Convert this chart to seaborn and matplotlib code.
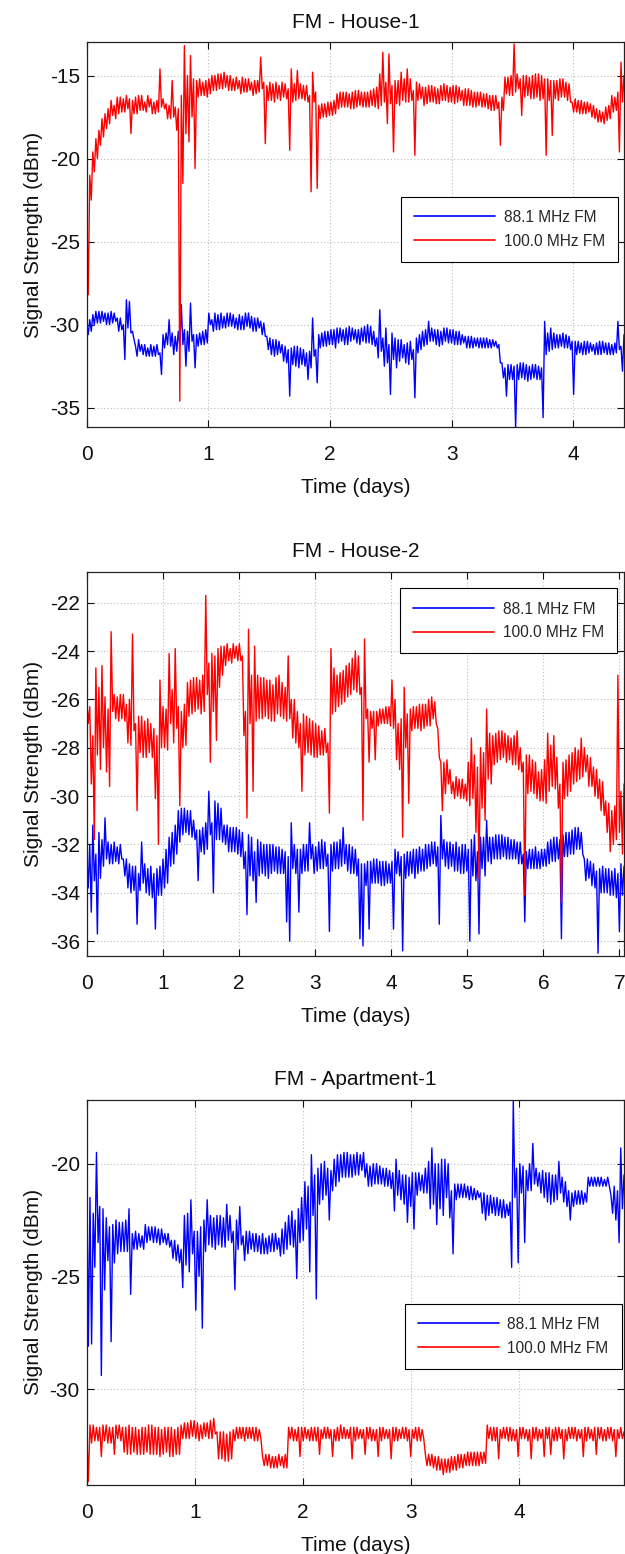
import numpy as np
import pandas as pd
import matplotlib
matplotlib.use("Agg")
import matplotlib.pyplot as plt
import seaborn as sns

# ---------------------------------------------------------------------------
# Received signal strength (dBm) of two FM stations, sampled at a regular
# interval over each measurement campaign.  Each interval is stored as the two
# extremes seen in it (first / second list), which traces the dense noise band.
# ---------------------------------------------------------------------------
labels = ["88.1 MHz FM", "100.0 MHz FM"]
titles = ["FM - House-1", "FM - House-2", "FM - Apartment-1"]
durations = [4.415, 7.06, 4.968]          # days covered by each campaign

house1_881_a = [
    -30.6, -29.7, -29.4, -29.9, -29.2, -29.8, -29.3, -30.0, -29.2, -29.8,
    -29.6, -30.3, -32.1, -28.5, -28.6, -30.9, -31.3, -31.6, -31.2, -31.9,
    -31.4, -31.9, -31.3, -31.8, -33.0, -30.6, -31.2, -29.7, -31.8, -30.7,
    -31.3, -28.8, -32.5, -30.4, -28.7, -32.6, -30.6, -31.2, -30.4, -31.1,
    -30.0, -29.7, -30.3, -29.4, -30.2, -29.5, -30.1, -29.3, -30.2, -29.6,
    -30.3, -29.5, -30.1, -29.3, -30.4, -29.6, -30.2, -29.8, -30.7, -31.5,
    -30.8, -31.9, -30.9, -31.7, -31.2, -32.3, -34.3, -31.4, -32.5, -31.3,
    -32.4, -31.5, -33.3, -31.6, -29.6, -33.5, -30.6, -31.3, -30.4, -31.2,
    -30.3, -31.4, -30.2, -31.0, -30.3, -31.2, -30.1, -30.9, -30.3, -31.2,
    -30.2, -31.1, -30.0, -31.2, -30.4, -32.0, -29.1, -32.5, -30.2, -34.2,
    -30.5, -32.6, -30.9, -32.0, -31.2, -32.4, -31.0, -34.4, -30.8, -31.5,
    -30.4, -31.2, -29.8, -31.0, -30.3, -31.3, -30.4, -31.0, -30.2, -31.1,
    -30.3, -31.2, -30.4, -31.1, -30.7, -31.4, -30.7, -31.3, -30.8, -31.4,
    -30.8, -31.4, -30.9, -31.3, -31.0, -32.3, -33.2, -34.3, -32.4, -33.3,
    -36.2, -32.4, -33.2, -32.3, -33.4, -32.5, -33.2, -32.4, -33.3, -35.6,
    -29.8, -31.6, -30.2, -31.4, -30.6, -31.3, -30.5, -31.4, -30.7, -34.2,
    -31.0, -31.7, -31.1, -31.8, -31.0, -31.6, -31.2, -31.8, -31.0, -31.7,
    -31.1, -31.8, -31.2, -31.7, -29.8, -32.8, -30.6,
]
house1_881_b = [
    -29.9, -30.4, -30.0, -29.2, -29.9, -29.2, -30.0, -29.3, -29.9, -29.3,
    -30.4, -29.6, -30.0, -30.2, -30.5, -30.4, -31.9, -30.9, -31.8, -31.2,
    -31.9, -31.2, -31.9, -31.2, -31.7, -31.4, -30.5, -31.3, -30.5, -31.6,
    -30.4, -31.2, -30.3, -31.6, -31.0, -30.6, -31.3, -30.5, -31.2, -30.3,
    -29.3, -30.4, -29.3, -30.3, -29.3, -30.2, -29.3, -30.1, -29.4, -30.3,
    -29.4, -30.3, -29.3, -30.2, -29.5, -30.4, -29.6, -30.6, -29.9, -30.7,
    -31.8, -30.9, -31.8, -31.0, -32.2, -31.3, -31.5, -32.4, -31.3, -32.6,
    -31.4, -32.5, -31.7, -32.6, -31.9, -31.5, -31.4, -30.5, -31.3, -30.4,
    -31.2, -30.3, -31.1, -30.2, -31.2, -30.2, -31.0, -30.2, -31.1, -30.3,
    -31.0, -30.1, -31.1, -30.1, -31.3, -30.8, -31.6, -30.8, -32.3, -31.2,
    -32.1, -30.8, -32.2, -30.9, -32.3, -31.1, -32.1, -31.5, -31.7, -30.6,
    -31.3, -30.3, -31.0, -30.2, -31.2, -30.3, -31.2, -30.2, -31.1, -30.3,
    -31.2, -30.4, -31.2, -30.6, -31.4, -30.7, -31.4, -30.8, -31.4, -30.8,
    -31.4, -30.8, -31.4, -30.9, -31.4, -31.2, -32.3, -32.6, -33.3, -32.4,
    -32.5, -33.3, -32.3, -33.3, -32.4, -33.3, -32.4, -33.3, -32.5, -32.6,
    -31.8, -30.5, -31.5, -30.5, -31.4, -30.6, -31.4, -30.6, -31.5, -31.0,
    -31.8, -31.0, -31.8, -31.0, -31.7, -31.1, -31.8, -31.1, -31.8, -31.0,
    -31.8, -31.1, -31.8, -31.1, -31.5, -31.3, -31.8,
]
house1_1000_a = [
    -28.2, -22.5, -20.8, -20.0, -19.2, -18.7, -18.2, -17.9, -17.4, -17.6,
    -16.3, -17.2, -16.4, -17.0, -18.5, -16.5, -17.3, -16.2, -17.1, -16.6,
    -16.9, -17.3, -16.6, -17.2, -14.6, -17.0, -16.7, -17.6, -15.3, -18.3,
    -34.6, -21.5, -13.2, -19.0, -13.8, -20.6, -15.3, -16.2, -15.4, -16.3,
    -15.2, -15.9, -15.0, -15.8, -14.9, -15.7, -15.0, -15.9, -15.2, -15.8,
    -15.3, -16.0, -15.2, -15.9, -15.4, -16.1, -15.3, -13.9, -19.1, -15.6,
    -16.5, -15.5, -16.4, -15.6, -16.3, -15.5, -19.5, -14.6, -16.5, -14.7,
    -16.4, -15.6, -16.6, -22.0, -14.8, -21.8, -16.8, -17.5, -16.7, -17.4,
    -16.6, -17.3, -16.1, -16.9, -16.0, -16.9, -16.1, -17.0, -15.9, -16.8,
    -16.0, -16.9, -16.0, -16.8, -15.8, -17.0, -14.9, -13.6, -17.9, -13.7,
    -19.6, -15.3, -16.8, -14.8, -16.6, -14.6, -16.5, -19.8, -15.4, -16.4,
    -16.8, -15.7, -16.6, -15.6, -16.7, -15.8, -16.5, -15.5, -16.6, -15.7,
    -16.7, -15.6, -16.5, -15.9, -16.8, -15.8, -16.9, -16.0, -16.8, -16.0,
    -16.9, -16.1, -17.1, -16.2, -17.0, -19.2, -16.3, -15.1, -16.2, -15.0,
    -13.1, -15.8, -17.4, -15.0, -16.2, -15.1, -16.4, -14.9, -16.5, -15.0,
    -19.8, -15.2, -18.6, -15.3, -16.5, -15.2, -16.3, -15.4, -16.6, -16.6,
    -17.2, -16.5, -17.3, -16.6, -17.2, -16.7, -17.6, -17.0, -17.8, -17.2,
    -17.7, -16.8, -17.2, -16.3, -19.6, -14.2, -15.6,
]
house1_1000_b = [
    -23.0, -21.0, -19.6, -18.8, -18.3, -17.6, -17.3, -17.0, -16.5, -16.8,
    -17.3, -16.3, -17.2, -16.2, -16.4, -17.3, -16.3, -17.1, -16.2, -17.2,
    -16.2, -16.4, -17.3, -16.5, -16.9, -16.4, -17.6, -16.8, -17.5, -16.9,
    -17.0, -16.2, -18.5, -15.0, -17.5, -15.2, -16.3, -15.2, -16.2, -15.3,
    -16.1, -15.0, -15.9, -14.9, -15.8, -14.8, -15.9, -15.0, -15.9, -15.1,
    -16.1, -15.1, -16.0, -15.2, -16.2, -15.3, -16.0, -15.8, -15.4, -16.5,
    -15.4, -16.6, -15.4, -16.5, -15.4, -16.4, -15.8, -16.6, -15.5, -16.4,
    -15.5, -16.5, -15.6, -16.2, -16.6, -16.0, -17.6, -16.7, -17.5, -16.6,
    -17.4, -16.5, -17.0, -16.0, -16.9, -16.0, -17.0, -16.0, -16.9, -15.9,
    -16.9, -16.0, -16.9, -15.9, -16.9, -15.7, -16.8, -16.6, -15.4, -16.7,
    -15.6, -16.7, -15.3, -16.5, -15.2, -16.6, -15.2, -15.9, -16.5, -15.5,
    -15.7, -16.7, -15.6, -16.6, -15.7, -16.7, -15.6, -16.5, -15.6, -16.6,
    -15.6, -16.6, -15.7, -16.8, -15.8, -16.8, -15.9, -16.9, -16.0, -16.9,
    -16.1, -17.0, -16.2, -17.1, -16.2, -16.6, -17.1, -16.1, -15.1, -16.2,
    -16.0, -14.9, -15.2, -16.3, -15.0, -16.4, -15.0, -16.3, -14.9, -16.4,
    -15.2, -16.5, -15.3, -16.4, -15.3, -16.3, -15.2, -16.5, -15.5, -17.2,
    -16.4, -17.3, -16.5, -17.3, -16.6, -17.5, -16.8, -17.8, -17.1, -17.9,
    -16.9, -17.6, -16.2, -17.1, -16.0, -16.6, -15.0,
]

house2_881_a = [
    -32.4, -34.8, -31.2, -35.7, -31.5, -32.9, -30.9, -32.8, -32.0, -32.7,
    -32.1, -32.6, -33.3, -32.6, -34.0, -32.9, -35.3, -33.2, -31.9, -34.0,
    -33.0, -34.2, -35.5, -33.0, -34.1, -32.6, -33.6, -31.7, -32.8, -31.2,
    -31.9, -30.5, -31.5, -30.6, -31.7, -31.0, -33.5, -31.4, -32.4, -31.1,
    -29.8, -34.0, -30.2, -31.8, -30.5, -32.0, -31.2, -32.3, -31.3, -32.4,
    -31.4, -33.0, -34.9, -31.6, -33.5, -34.4, -31.8, -33.2, -32.0, -33.4,
    -32.0, -33.1, -32.1, -33.2, -32.2, -35.2, -36.0, -31.1, -33.2, -34.8,
    -32.2, -33.1, -32.0, -31.1, -33.2, -32.1, -33.0, -31.8, -32.9, -35.6,
    -32.0, -33.0, -31.9, -32.9, -31.3, -33.1, -32.0, -33.2, -32.2, -35.9,
    -36.2, -32.8, -35.5, -32.7, -33.6, -32.6, -33.7, -32.7, -33.6, -32.8,
    -35.5, -33.2, -32.3, -36.4, -32.4, -33.3, -32.3, -33.4, -32.2, -33.1,
    -32.2, -33.0, -32.0, -32.8, -31.9, -35.3, -30.8, -32.9, -31.9, -32.9,
    -32.0, -33.1, -32.1, -33.2, -32.0, -36.0, -31.8, -33.5, -35.7, -31.7,
    -33.3, -31.0, -32.8, -31.7, -32.6, -31.6, -32.5, -31.7, -32.6, -31.8,
    -32.6, -31.9, -32.8, -35.2, -32.3, -33.0, -32.2, -33.0, -32.3, -32.9,
    -32.2, -32.8, -31.8, -32.7, -31.7, -35.9, -31.6, -32.5, -31.5, -32.4,
    -31.3, -32.2, -31.5, -32.6, -33.4, -32.7, -33.8, -36.5, -33.0, -34.0,
    -33.0, -34.1, -33.1, -34.2, -35.6, -32.8, -34.0,
]
house2_881_b = [
    -33.8, -32.0, -33.5, -32.4, -33.4, -31.8, -32.6, -31.9, -32.8, -31.9,
    -32.8, -32.0, -32.6, -33.8, -32.8, -33.9, -32.9, -33.9, -33.6, -32.8,
    -34.1, -32.9, -33.2, -34.1, -32.9, -33.8, -32.2, -32.9, -31.5, -32.4,
    -30.6, -31.6, -30.5, -31.6, -30.6, -31.8, -31.4, -32.3, -31.3, -32.2,
    -31.6, -31.1, -31.8, -30.3, -31.9, -31.2, -32.3, -31.3, -32.3, -31.3,
    -32.5, -31.5, -32.3, -33.3, -31.7, -32.3, -33.3, -31.9, -33.3, -32.0,
    -33.2, -32.0, -33.2, -32.1, -33.2, -32.3, -32.5, -33.0, -32.0, -32.2,
    -33.2, -32.0, -33.1, -32.6, -32.0, -33.1, -31.9, -33.0, -31.9, -32.4,
    -33.1, -31.9, -33.0, -31.8, -32.8, -32.0, -33.2, -32.1, -33.3, -32.6,
    -32.8, -33.7, -32.7, -33.6, -32.6, -33.6, -32.7, -33.7, -32.7, -33.6,
    -32.7, -32.2, -33.3, -32.5, -33.4, -32.3, -33.2, -32.2, -33.2, -32.1,
    -33.1, -32.0, -32.9, -31.9, -32.9, -32.1, -32.6, -31.8, -33.0, -31.9,
    -33.1, -31.9, -33.2, -32.0, -33.1, -32.2, -33.3, -31.6, -32.3, -33.0,
    -31.7, -32.7, -31.7, -32.6, -31.6, -32.6, -31.6, -32.6, -31.7, -32.6,
    -31.8, -32.8, -31.9, -32.4, -33.0, -32.2, -33.0, -32.1, -33.0, -32.2,
    -32.9, -31.9, -32.7, -31.7, -32.6, -31.8, -32.5, -31.5, -32.4, -31.4,
    -32.2, -31.3, -32.4, -33.5, -32.6, -33.7, -32.8, -33.1, -34.0, -32.9,
    -34.0, -33.0, -34.1, -33.0, -33.2, -34.1, -32.9,
]
house2_1000_a = [
    -27.0, -29.5, -31.8, -24.7, -28.9, -24.6, -29.0, -29.6, -23.2, -26.8,
    -25.9, -26.8, -25.8, -27.8, -26.0, -23.3, -30.6, -26.7, -28.4, -26.9,
    -28.2, -27.0, -30.1, -32.0, -25.2, -28.0, -26.4, -24.1, -27.8, -23.9,
    -30.4, -26.5, -27.9, -25.3, -26.6, -25.1, -26.4, -25.2, -26.5, -21.7,
    -28.6, -24.1, -27.7, -23.9, -25.0, -23.8, -24.4, -23.9, -24.3, -23.8,
    -24.4, -27.5, -30.9, -23.1, -29.8, -23.8, -26.8, -25.1, -26.7, -25.2,
    -26.9, -25.4, -26.6, -25.0, -26.8, -25.5, -24.2, -27.6, -26.0, -28.0,
    -29.8, -26.6, -28.2, -26.8, -28.4, -27.0, -28.3, -27.3, -28.2, -30.7,
    -23.9, -26.5, -25.0, -26.2, -24.8, -25.9, -24.5, -25.6, -24.0, -25.8,
    -31.0, -23.5, -28.6, -26.5, -28.5, -26.5, -27.0, -26.4, -27.0, -26.3,
    -25.2, -28.5, -27.0, -31.7, -25.5, -30.3, -26.4, -27.2, -26.3, -27.3,
    -26.2, -27.1, -26.0, -25.9, -27.0, -28.4, -30.6, -28.6, -29.5, -28.9,
    -29.4, -30.0, -29.3, -30.1, -29.5, -30.4, -27.6, -31.5, -33.4, -28.0,
    -31.0, -26.4, -29.5, -27.5, -28.6, -27.3, -28.4, -27.4, -28.5, -27.6,
    -28.7, -27.3, -29.0, -34.1, -28.3, -29.8, -28.5, -30.1, -29.0, -30.2,
    -30.3, -27.4, -29.6, -27.5, -30.5, -34.4, -28.6, -30.0, -28.3, -29.5,
    -28.0, -29.3, -27.6, -29.0, -28.3, -29.6, -28.8, -30.1, -29.3, -30.8,
    -30.2, -32.3, -30.6, -31.8, -25.0, -32.4, -29.5,
]
house2_1000_b = [
    -26.0, -26.3, -27.5, -28.3, -25.5, -28.0, -25.9, -26.4, -26.5, -25.8,
    -26.9, -25.8, -26.9, -26.2, -27.9, -27.3, -27.0, -28.2, -26.7, -28.4,
    -26.8, -28.4, -27.2, -27.5, -28.0, -26.3, -28.1, -27.0, -25.6, -27.2,
    -26.3, -28.0, -26.2, -26.7, -25.2, -26.5, -25.1, -26.6, -25.0, -25.8,
    -24.5, -26.5, -24.2, -25.5, -23.8, -24.6, -23.7, -24.5, -23.7, -24.4,
    -23.7, -24.2, -26.5, -27.0, -25.0, -26.9, -25.0, -26.8, -25.1, -26.8,
    -25.2, -26.9, -25.1, -26.7, -25.3, -26.9, -26.8, -26.0, -27.8, -26.5,
    -27.0, -28.3, -26.7, -28.3, -26.9, -28.4, -27.1, -28.3, -27.2, -27.8,
    -26.6, -24.7, -26.3, -24.9, -26.1, -24.6, -25.8, -24.3, -25.7, -24.2,
    -25.5, -26.8, -26.4, -27.2, -26.5, -27.1, -26.4, -27.0, -26.3, -27.1,
    -27.2, -26.0, -28.9, -26.8, -28.0, -26.6, -27.3, -26.3, -27.2, -26.2,
    -27.2, -26.2, -27.1, -26.8, -26.1, -27.2, -28.6, -29.9, -28.5, -29.9,
    -30.1, -29.2, -30.1, -29.3, -30.2, -28.6, -30.1, -28.3, -28.8, -30.5,
    -28.2, -29.3, -27.4, -28.7, -27.4, -28.5, -27.3, -28.6, -27.5, -28.7,
    -27.5, -28.9, -28.0, -28.6, -29.9, -28.3, -29.9, -28.6, -30.2, -28.9,
    -28.5, -29.8, -27.9, -29.7, -28.4, -29.5, -30.1, -28.5, -29.8, -28.2,
    -29.4, -28.1, -29.2, -28.0, -29.6, -28.4, -30.0, -28.9, -30.6, -29.4,
    -31.5, -30.3, -32.0, -30.4, -31.5, -29.8, -31.7,
]

apt1_881_a = [
    -20.3, -28.0, -22.2, -19.5, -29.4, -25.6, -22.4, -27.9, -22.7, -24.0,
    -22.6, -23.9, -22.5, -25.8, -23.8, -23.0, -23.7, -23.2, -22.7, -23.4,
    -22.8, -23.5, -22.9, -23.5, -23.1, -23.7, -23.4, -24.3, -23.6, -25.5,
    -22.3, -24.8, -21.6, -26.5, -23.0, -27.3, -22.5, -21.6, -23.7, -22.4,
    -23.6, -22.3, -23.7, -21.8, -23.5, -25.6, -22.5, -21.9, -24.3, -23.0,
    -23.8, -23.1, -23.9, -23.2, -24.0, -23.3, -23.9, -23.1, -23.8, -23.3,
    -24.0, -22.6, -23.6, -22.1, -25.1, -22.0, -23.4, -20.8, -24.8, -19.6,
    -26.0, -20.2, -21.6, -19.9, -22.5, -20.3, -21.0, -19.6, -20.6, -19.5,
    -20.6, -19.6, -20.5, -19.5, -20.3, -19.5, -21.0, -20.1, -20.9, -20.0,
    -20.9, -20.2, -21.0, -20.3, -22.1, -19.8, -21.6, -20.5, -22.6, -20.6,
    -22.9, -20.4, -21.2, -20.5, -21.3, -22.0, -19.3, -22.7, -20.0, -22.3,
    -19.8, -22.4, -24.0, -20.9, -21.5, -20.9, -21.5, -21.0, -21.6, -21.1,
    -21.5, -21.3, -22.5, -21.4, -22.2, -21.5, -22.3, -21.6, -22.4, -21.8,
    -24.6, -17.2, -24.4, -20.0, -23.5, -20.3, -21.2, -19.1, -21.0, -20.4,
    -21.5, -20.4, -21.8, -20.5, -21.6, -19.9, -21.7, -20.8, -22.5, -21.3,
    -21.8, -21.2, -21.8, -21.3, -21.0, -20.6, -21.0, -20.6, -21.0, -20.7,
    -21.0, -21.4, -22.5, -23.5, -19.3, -22.0,
]
apt1_881_b = [
    -28.1, -21.5, -24.6, -23.5, -21.9, -22.0, -24.3, -22.8, -24.4, -22.5,
    -23.9, -22.6, -23.9, -22.0, -23.1, -23.8, -23.1, -23.8, -23.5, -22.8,
    -23.5, -22.8, -23.6, -22.9, -23.6, -23.1, -24.2, -23.4, -24.4, -23.8,
    -24.5, -22.2, -24.0, -23.0, -25.0, -22.8, -23.9, -23.6, -22.3, -23.8,
    -22.3, -23.7, -22.4, -23.4, -22.3, -23.0, -23.8, -23.6, -23.2, -24.0,
    -23.0, -23.9, -23.1, -24.0, -23.1, -24.0, -23.2, -23.9, -23.1, -24.1,
    -22.9, -23.8, -22.3, -23.7, -22.5, -23.5, -21.5, -22.9, -21.0, -22.3,
    -20.5, -21.8, -20.0, -21.4, -20.2, -21.2, -19.8, -20.8, -19.6, -20.6,
    -19.5, -20.6, -19.6, -20.5, -19.6, -20.6, -20.0, -21.0, -20.0, -20.9,
    -20.1, -21.0, -20.2, -21.1, -20.4, -21.4, -20.3, -21.8, -20.5, -21.9,
    -20.4, -21.4, -20.4, -21.3, -20.2, -19.9, -21.8, -20.0, -22.0, -19.8,
    -21.5, -20.0, -21.2, -21.6, -20.9, -21.5, -20.9, -21.6, -21.0, -21.6,
    -21.2, -22.2, -21.3, -22.3, -21.4, -22.3, -21.5, -22.4, -21.6, -22.3,
    -21.7, -21.5, -20.2, -21.3, -20.1, -21.2, -20.0, -20.9, -20.2, -21.3,
    -20.3, -21.7, -20.4, -21.7, -20.5, -21.3, -20.6, -21.9, -21.2, -21.9,
    -21.2, -21.8, -21.2, -21.7, -20.6, -21.0, -20.6, -21.0, -20.6, -21.0,
    -20.6, -22.2, -21.0, -21.2, -22.0, -20.5,
]
apt1_1000_a = [
    -34.1, -31.6, -32.3, -31.7, -33.0, -31.6, -32.4, -31.7, -32.9, -31.6,
    -32.3, -31.7, -32.9, -31.6, -32.8, -31.7, -32.9, -31.7, -32.8, -31.6,
    -32.9, -31.7, -33.0, -31.8, -32.8, -31.7, -33.0, -31.8, -32.9, -31.6,
    -32.2, -31.5, -32.1, -31.4, -32.3, -31.6, -32.1, -31.5, -32.2, -31.3,
    -33.1, -31.9, -33.2, -32.0, -33.1, -31.8, -32.2, -31.7, -32.3, -31.7,
    -32.2, -31.7, -32.3, -31.8, -33.0, -33.4, -32.9, -33.5, -33.0, -33.4,
    -33.0, -33.5, -31.7, -32.3, -31.8, -33.0, -31.7, -32.2, -31.8, -32.3,
    -31.7, -32.9, -31.8, -32.2, -31.7, -33.0, -31.8, -32.3, -31.6, -32.2,
    -31.8, -33.1, -31.7, -32.2, -31.8, -32.9, -31.7, -32.3, -31.8, -33.0,
    -31.7, -32.2, -31.8, -33.1, -31.7, -32.3, -31.8, -32.2, -31.7, -33.0,
    -31.8, -32.3, -31.7, -32.2, -32.9, -33.4, -32.9, -33.6, -33.0, -33.8,
    -33.1, -33.7, -33.0, -33.6, -32.9, -33.5, -32.9, -33.4, -32.8, -33.4,
    -32.8, -33.3, -32.8, -31.6, -32.3, -31.7, -33.1, -31.8, -32.2, -31.7,
    -32.3, -31.8, -33.0, -31.7, -32.2, -31.8, -33.1, -31.7, -32.3, -31.8,
    -33.0, -31.7, -32.9, -31.8, -32.3, -31.7, -33.1, -31.8, -32.2, -31.7,
    -32.3, -31.8, -33.0, -31.7, -32.2, -31.8, -32.9, -31.7, -32.3, -31.8,
    -32.2, -31.7, -33.0, -31.8, -32.2, -31.9,
]
apt1_1000_b = [
    -31.7, -32.4, -31.6, -32.3, -31.7, -32.3, -31.6, -32.4, -31.7, -32.2,
    -31.6, -32.8, -31.7, -32.9, -31.7, -32.9, -31.8, -32.9, -31.7, -32.9,
    -31.6, -32.9, -31.7, -32.9, -31.7, -33.0, -31.7, -32.9, -31.7, -32.2,
    -31.5, -32.2, -31.4, -32.2, -31.5, -32.2, -31.5, -32.2, -31.4, -32.0,
    -31.9, -33.1, -31.9, -33.2, -31.9, -32.3, -31.7, -32.2, -31.7, -32.2,
    -31.7, -32.3, -31.7, -32.2, -33.4, -32.9, -33.5, -33.0, -33.5, -32.9,
    -33.5, -32.9, -32.2, -31.7, -32.3, -31.7, -32.3, -31.7, -32.3, -31.7,
    -32.3, -31.7, -32.2, -31.7, -32.2, -31.8, -32.3, -31.7, -32.2, -31.7,
    -32.2, -31.7, -32.3, -31.7, -32.2, -31.8, -32.2, -31.7, -32.3, -31.8,
    -32.3, -31.7, -32.2, -31.8, -32.3, -31.7, -32.2, -31.7, -32.3, -31.8,
    -32.2, -31.7, -32.3, -31.8, -33.4, -32.9, -33.5, -33.0, -33.6, -33.1,
    -33.7, -33.1, -33.6, -33.0, -33.5, -32.9, -33.4, -32.8, -33.4, -32.8,
    -33.4, -32.8, -33.3, -32.2, -31.7, -32.3, -31.7, -32.2, -31.7, -32.3,
    -31.7, -32.3, -31.8, -32.2, -31.7, -32.3, -31.8, -32.2, -31.7, -32.2,
    -31.8, -32.2, -31.7, -32.3, -31.7, -32.2, -31.8, -32.3, -31.7, -32.2,
    -31.7, -32.2, -31.8, -32.3, -31.7, -32.3, -31.7, -32.2, -31.7, -32.3,
    -31.7, -32.3, -31.8, -32.2, -31.7, -32.3,
]

series = [
    ((house1_881_a, house1_881_b), (house1_1000_a, house1_1000_b)),
    ((house2_881_a, house2_881_b), (house2_1000_a, house2_1000_b)),
    ((apt1_881_a, apt1_881_b), (apt1_1000_a, apt1_1000_b)),
]
y_limits = [(-36.16, -13.0), (-36.6, -20.72), (-34.26, -17.16)]
y_ticks = [[-35, -30, -25, -20, -15],
           [-36, -34, -32, -30, -28, -26, -24, -22],
           [-30, -25, -20]]
x_ticks = [[0, 1, 2, 3, 4], [0, 1, 2, 3, 4, 5, 6, 7], [0, 1, 2, 3, 4]]
legend_anchor = [(0.9894, 0.5986), (0.9875, 0.9568), (0.9957, 0.4705)]
colors = ["#0000ff", "#ff0000"]

sns.set_theme(style="white")
plt.rcParams["font.family"] = ["Liberation Sans", "DejaVu Sans"]
plt.rcParams["axes.unicode_minus"] = False

fig = plt.figure(figsize=(6.25, 15.54), dpi=100)
axes_rects = [
    [0.13872, 0.72523, 0.85968, 0.24755],
    [0.13872, 0.38501, 0.85968, 0.24710],
    [0.13872, 0.04440, 0.85968, 0.24794],
]

for i, rect in enumerate(axes_rects):
    ax = fig.add_axes(rect)
    for (first, second), col, lab in zip(series[i], colors, labels):
        first = np.asarray(first)
        second = np.asarray(second)
        t = np.linspace(0.0, durations[i], len(first))
        half = 0.5 * (t[1] - t[0])
        # each interval: its peak at the start, its trough half-way through
        df = pd.DataFrame({
            "Time (days)": np.column_stack([t, t + half]).ravel(),
            "dBm": np.column_stack([np.maximum(first, second),
                                    np.minimum(first, second)]).ravel(),
        })
        sns.lineplot(data=df, x="Time (days)", y="dBm", color=col,
                     linewidth=1.0, estimator=None, sort=False, label=lab,
                     ax=ax)

    ax.set_xlim(0, durations[i])
    ax.set_ylim(*y_limits[i])
    ax.set_xticks(x_ticks[i])
    ax.set_yticks(y_ticks[i])
    ax.set_axisbelow(True)
    ax.grid(True, color="#bcbcbc", linestyle=(0, (1, 2)), linewidth=0.8)

    ax.tick_params(axis="both", direction="in", length=5, width=0.8,
                   colors="#111111", labelsize=15, top=True, right=True,
                   bottom=True, left=True)
    ax.tick_params(axis="x", pad=13)
    ax.tick_params(axis="y", pad=5)
    for sp in ax.spines.values():
        sp.set_color("#222222")
        sp.set_linewidth(0.9)

    ax.set_title(titles[i], fontsize=15, pad=10.5, color="#111111")
    ax.set_xlabel("Time (days)", fontsize=15, labelpad=10, color="#111111")
    ax.set_ylabel("Signal Strength (dBm)", fontsize=15, labelpad=5,
                  color="#111111")

    leg = ax.legend(loc="upper right", bbox_to_anchor=legend_anchor[i],
                    borderaxespad=0, fontsize=11.2, frameon=True,
                    fancybox=False, edgecolor="black", framealpha=1,
                    borderpad=0.85, labelspacing=0.56, handlelength=5.2,
                    handletextpad=0.56)
    leg.get_frame().set_linewidth(0.8)
    for h in leg.get_lines():
        h.set_linewidth(1.2)

fig.savefig("out.png", dpi=100)
